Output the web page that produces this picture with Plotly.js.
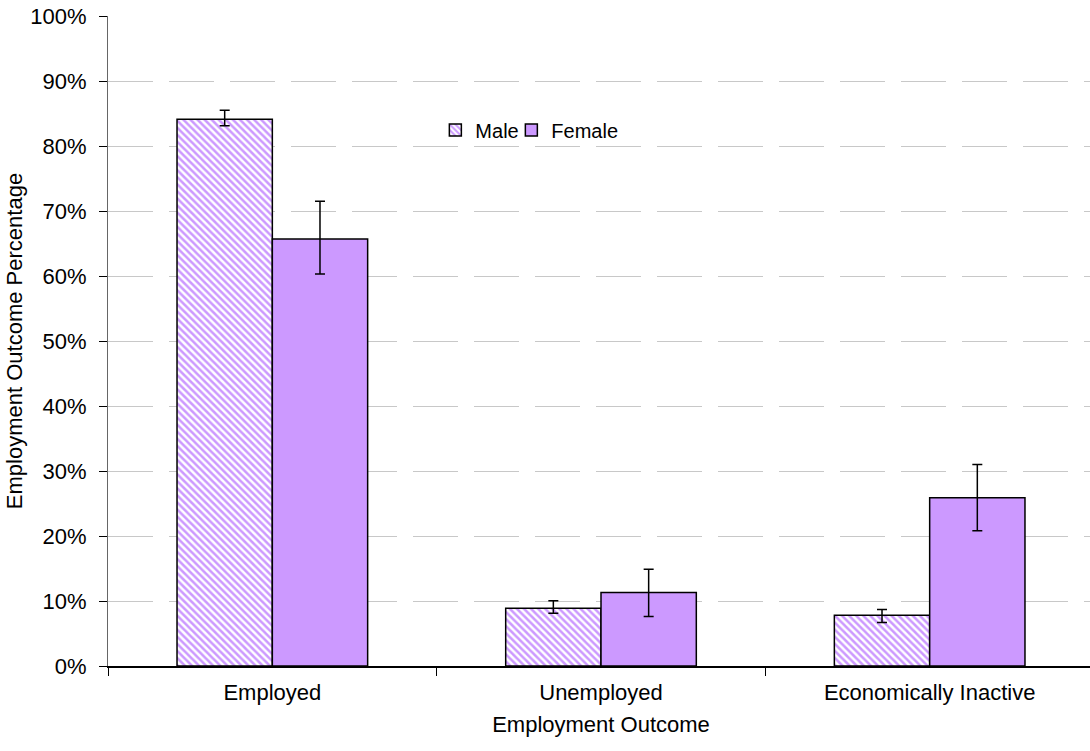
<!DOCTYPE html>
<html>
<head>
<meta charset="utf-8">
<script src="https://cdn.plot.ly/plotly-3.0.1.min.js"></script>
<style>html,body{margin:0;padding:0;overflow:hidden;background:#fff;}#chart{width:1096px;height:751px;}</style>
</head>
<body>
<div id="chart"></div>
<script>
const categories = ["Employed", "Unemployed", "Economically Inactive"];
const maleValues = [84.1, 8.9, 7.8];
const maleErrPlus = [1.4, 1.15, 0.9];
const maleErrMinus = [1.0, 0.8, 1.1];
const femaleValues = [65.7, 11.3, 25.9];
const femaleErrPlus = [5.8, 3.6, 5.1];
const femaleErrMinus = [5.4, 3.7, 5.1];
const yTickVals = [0,10,20,30,40,50,60,70,80,90,100];
const yTickText = ["0%","10%","20%","30%","40%","50%","60%","70%","80%","90%","100%"];

const fam = "Arial, 'Liberation Sans', sans-serif";
const font = {family: fam, size: 22, color: "#000"};
const legendFont = {family: fam, size: 20, color: "#000"};

const male = {
  type: "bar", name: "Male", x: categories, y: maleValues,
  marker: {
    color: "#cc99ff",
    line: {color: "#000", width: 1.5},
    pattern: {shape: "\\", fillmode: "replace", bgcolor: "#ffffff", fgcolor: "#cc99ff", size: 5, solidity: 0.5}
  },
  error_y: {type: "data", symmetric: false, array: maleErrPlus, arrayminus: maleErrMinus, color: "#000", thickness: 1.5, width: 5}
};
const female = {
  type: "bar", name: "Female", x: categories, y: femaleValues,
  marker: {color: "#cc99ff", line: {color: "#000", width: 1.5}},
  error_y: {type: "data", symmetric: false, array: femaleErrPlus, arrayminus: femaleErrMinus, color: "#000", thickness: 1.5, width: 5}
};

const layout = {
  width: 1096, height: 751,
  margin: {l: 108, r: 2, t: 16, b: 85},
  font: font,
  paper_bgcolor: "#fff", plot_bgcolor: "#fff",
  barmode: "group", bargap: 0.42, bargroupgap: 0,
  showlegend: true,
  legend: {orientation: "h", x: 0.332, y: 0.8246, xanchor: "left", yanchor: "middle", font: legendFont, bgcolor: "rgba(0,0,0,0)", itemwidth: 30, tracegroupgap: 0, entrywidth: 31, entrywidthmode: "pixels"},
  xaxis: {
    type: "category", showline: true, linecolor: "#000", linewidth: 1.5,
    ticks: "outside", tickson: "boundaries", ticklen: 8, tickcolor: "#000",
    showgrid: false, tickfont: font, ticklabelstandoff: 6,
    title: {text: "Employment Outcome", font: font, standoff: 12}
  },
  yaxis: {
    range: [0, 100], tickvals: yTickVals, ticktext: yTickText,
    showline: true, linecolor: "#666", linewidth: 1,
    ticks: "outside", ticklen: 8, tickcolor: "#000",
    showgrid: true, gridcolor: "#c8c8c8", gridwidth: 1, griddash: "45px,16px",
    zeroline: false, tickfont: font, ticklabelstandoff: 8,
    title: {text: "Employment Outcome Percentage", font: font, standoff: 1}
  }
};

Plotly.newPlot("chart", [male, female], layout, {displayModeBar: false, staticPlot: true}).then(function(gd) {
  // let the last legend entry's text extend past the fixed entry width
  gd.querySelectorAll(".legend .scrollbox, .legend [clip-path]").forEach(function(el) {
    el.removeAttribute("clip-path");
  });
});
</script>
</body>
</html>
